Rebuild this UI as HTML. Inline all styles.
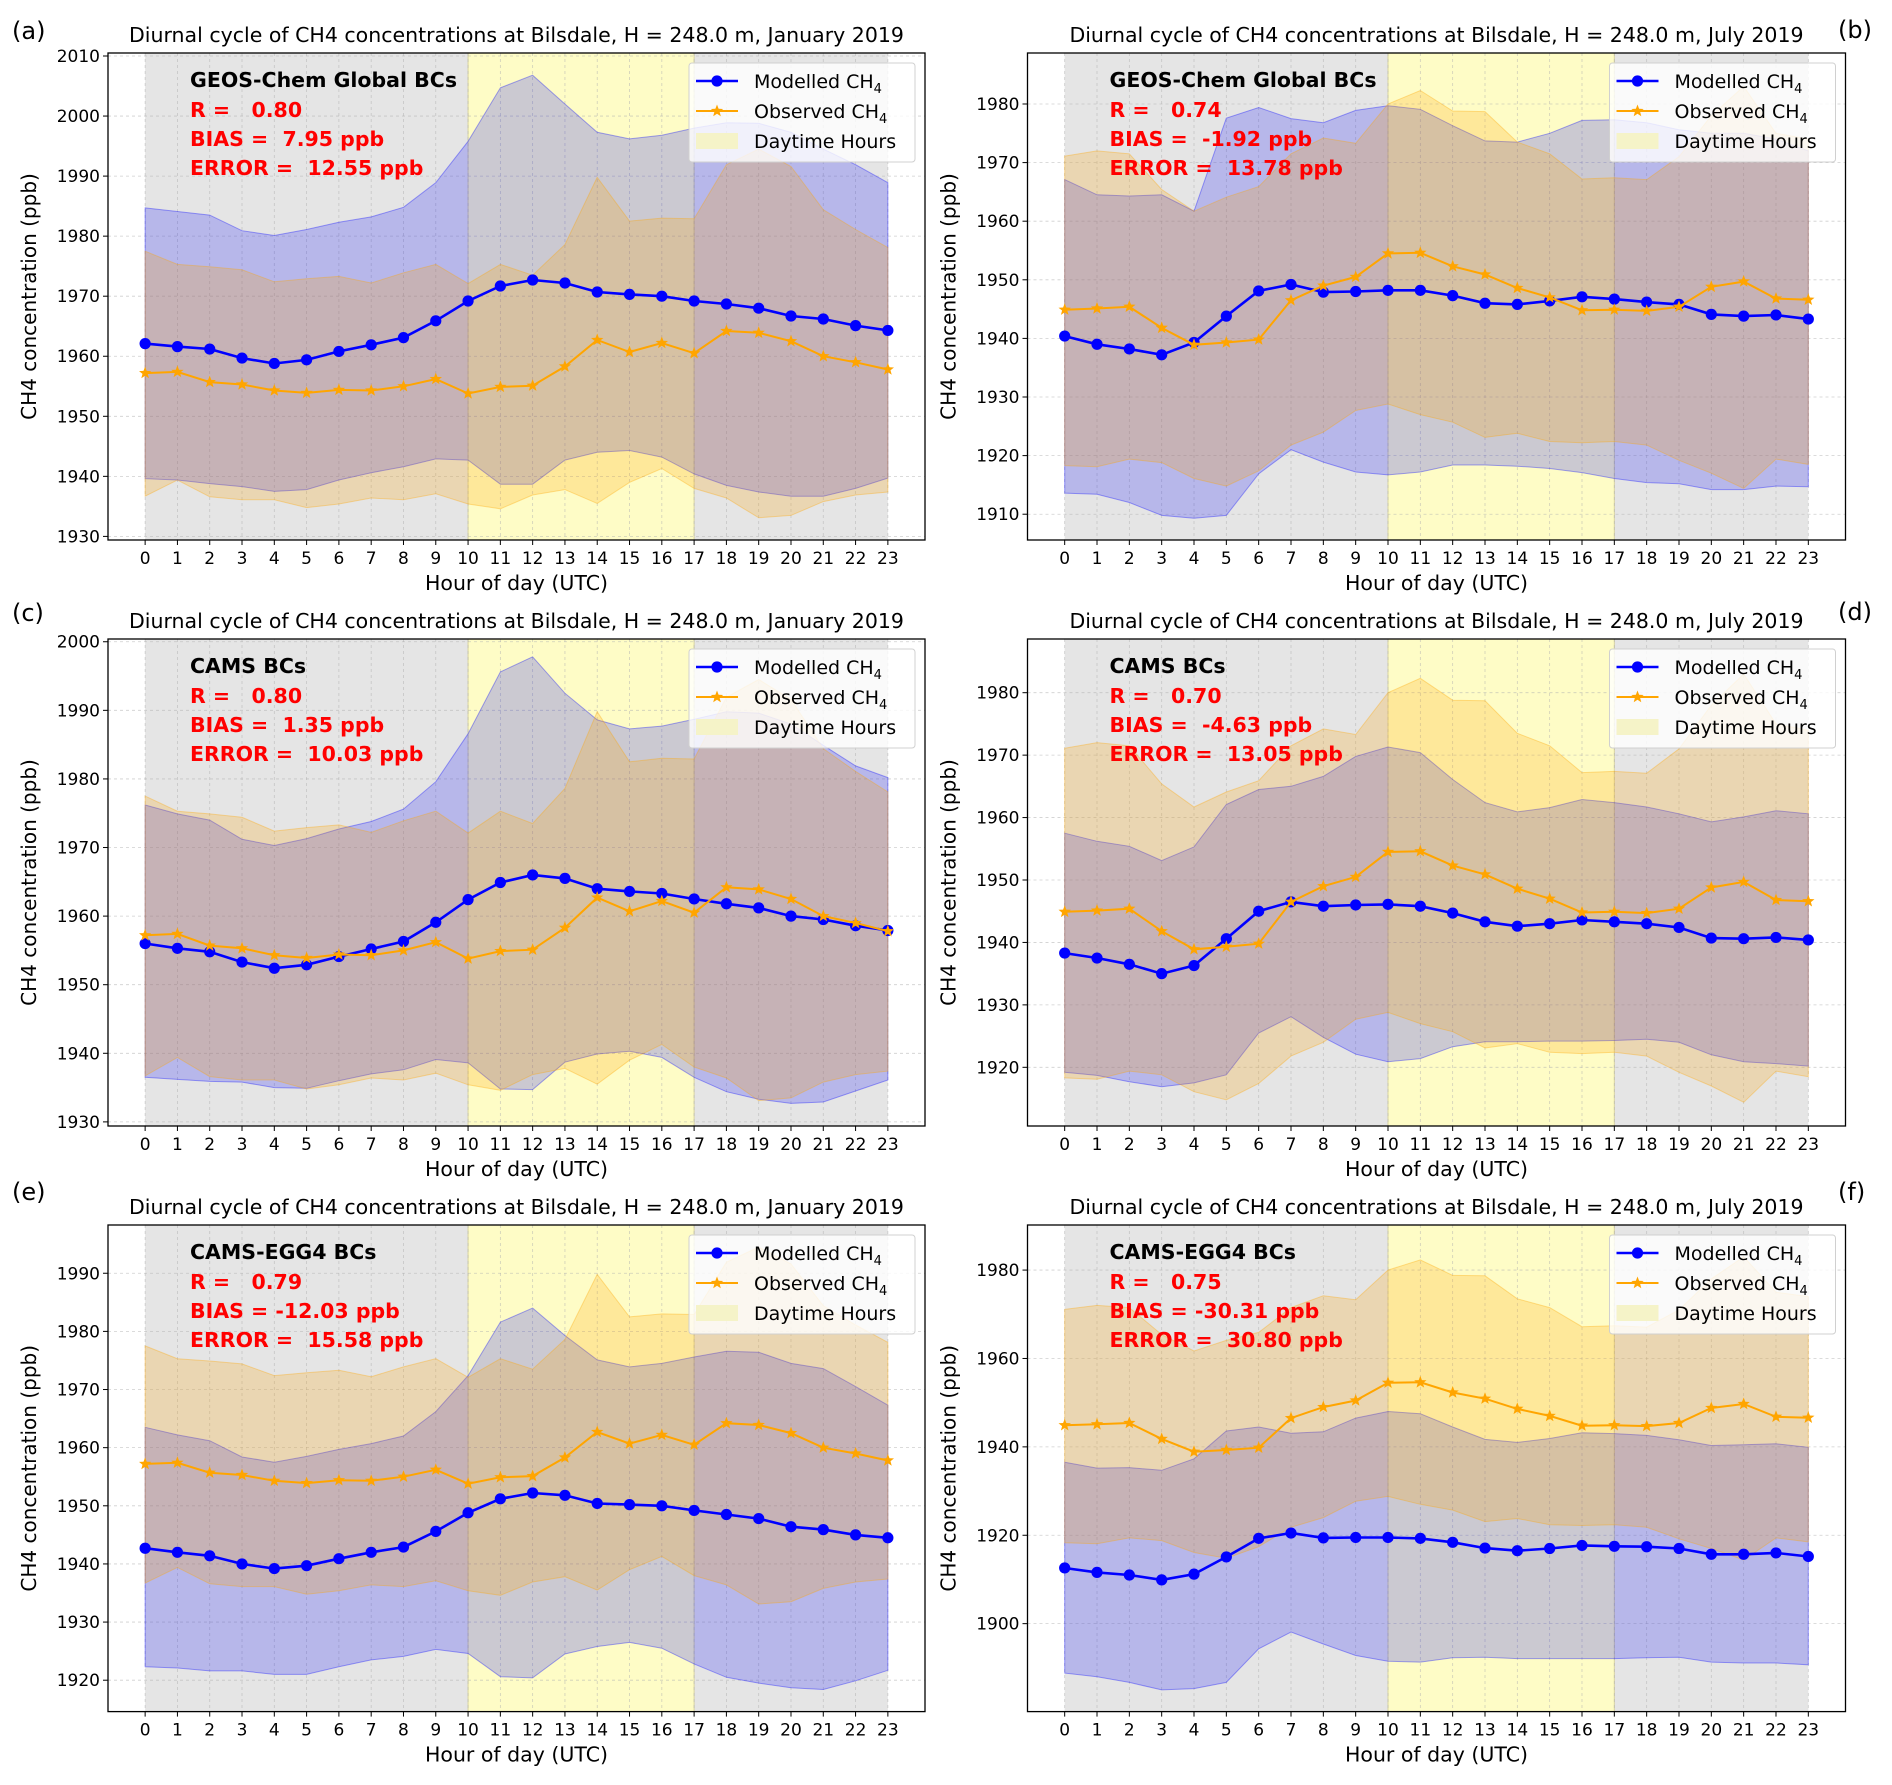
<!DOCTYPE html>
<html><head><meta charset="utf-8">
<style>
html,body{margin:0;padding:0;background:#fff;}
svg{display:block;font-family:"DejaVu Sans","Liberation Sans",sans-serif;}
</style></head>
<body>
<svg id="fig" width="1892" height="1785" viewBox="0 0 1892 1785" xmlns="http://www.w3.org/2000/svg"></svg>
<script>
const hours=[0,1,2,3,4,5,6,7,8,9,10,11,12,13,14,15,16,17,18,19,20,21,22,23];
// Observed (same in each month)
const obsJan=[1957.2,1957.4,1955.7,1955.3,1954.3,1953.9,1954.4,1954.3,1955.0,1956.2,1953.8,1954.9,1955.1,1958.3,1962.7,1960.7,1962.2,1960.5,1964.2,1963.9,1962.5,1960.0,1959.0,1957.8];
const obsJanUp=[1977.5,1975.3,1974.9,1974.4,1972.4,1972.9,1973.3,1972.2,1973.9,1975.3,1972.1,1975.3,1973.5,1978.6,1989.8,1982.5,1983.0,1982.9,1991.9,1994.5,1991.6,1984.4,1981.1,1978.1];
const obsJanLo=[1936.7,1939.4,1936.6,1936.1,1936.1,1934.8,1935.4,1936.4,1936.1,1937.1,1935.4,1934.6,1936.9,1937.8,1935.5,1939.0,1941.3,1938.0,1936.4,1933.1,1933.5,1935.8,1936.9,1937.4];
const obsJul=[1944.9,1945.1,1945.4,1941.8,1938.9,1939.3,1939.8,1946.5,1949.0,1950.5,1954.5,1954.6,1952.3,1950.9,1948.6,1947.0,1944.8,1944.9,1944.7,1945.4,1948.8,1949.7,1946.8,1946.6];
const obsJulUp=[1971.1,1972.0,1971.5,1965.4,1961.7,1964.1,1965.9,1971.5,1974.2,1973.3,1980.0,1982.3,1978.8,1978.7,1973.5,1971.5,1967.2,1967.4,1967.1,1971.0,1978.0,1983.0,1975.0,1974.0];
const obsJulLo=[1918.3,1918.1,1919.4,1918.8,1916.1,1914.8,1917.4,1921.8,1924.0,1927.7,1928.8,1927.0,1925.7,1923.1,1923.8,1922.4,1922.2,1922.4,1921.8,1919.2,1917.0,1914.4,1919.4,1918.5];
// Modelled
const modA=[1962.1,1961.6,1961.2,1959.7,1958.8,1959.4,1960.8,1961.9,1963.1,1965.9,1969.2,1971.7,1972.7,1972.2,1970.7,1970.3,1970.0,1969.2,1968.7,1968.0,1966.7,1966.2,1965.1,1964.3];
const modAUp=[1984.7,1984.1,1983.5,1980.9,1980.1,1981.1,1982.3,1983.2,1984.8,1988.9,1995.8,2004.7,2006.8,2002.0,1997.3,1996.2,1996.8,1998.0,1998.9,1998.8,1997.3,1994.5,1991.9,1988.9];
const modALo=[1939.6,1939.4,1938.8,1938.3,1937.5,1937.8,1939.4,1940.6,1941.6,1942.9,1942.7,1938.7,1938.7,1942.7,1944.0,1944.3,1943.2,1940.4,1938.5,1937.4,1936.7,1936.7,1938.0,1939.7];
const modB=[1940.4,1939.0,1938.2,1937.2,1939.3,1943.8,1948.1,1949.2,1947.9,1948.0,1948.2,1948.2,1947.3,1946.0,1945.8,1946.4,1947.1,1946.7,1946.2,1945.8,1944.1,1943.8,1944.0,1943.3];
const modBUp=[1967.1,1964.5,1964.3,1964.5,1961.7,1977.6,1979.4,1977.5,1976.8,1978.9,1979.7,1979.1,1976.3,1973.7,1973.5,1975.0,1977.2,1977.3,1976.8,1975.6,1975.0,1975.0,1974.0,1972.0];
const modBLo=[1913.6,1913.4,1912.0,1909.8,1909.3,1909.8,1916.9,1921.0,1918.9,1917.2,1916.7,1917.2,1918.4,1918.4,1918.2,1917.8,1917.1,1916.1,1915.4,1915.2,1914.2,1914.2,1914.8,1914.7];
const modC=[1956.0,1955.3,1954.8,1953.3,1952.4,1952.9,1954.1,1955.2,1956.3,1959.1,1962.4,1964.9,1966.0,1965.5,1964.0,1963.6,1963.3,1962.5,1961.8,1961.2,1960.0,1959.5,1958.6,1957.9];
const modCUp=[1976.2,1974.9,1974.0,1971.2,1970.3,1971.3,1972.7,1973.8,1975.6,1979.6,1986.6,1995.6,1997.8,1992.5,1988.6,1987.3,1987.7,1988.7,1989.8,1989.6,1988.0,1984.9,1981.9,1980.2];
const modCLo=[1936.5,1936.2,1935.9,1935.8,1935.0,1934.9,1936.0,1937.0,1937.6,1939.1,1938.6,1934.8,1934.7,1938.7,1939.9,1940.3,1939.4,1936.5,1934.4,1933.3,1932.7,1932.9,1934.5,1936.1];
const modD=[1938.3,1937.5,1936.5,1935.0,1936.3,1940.6,1945.0,1946.5,1945.8,1946.0,1946.1,1945.8,1944.7,1943.3,1942.6,1943.0,1943.6,1943.3,1943.0,1942.4,1940.7,1940.6,1940.8,1940.4];
const modDUp=[1957.5,1956.2,1955.4,1953.1,1955.3,1962.1,1964.5,1965.0,1966.6,1969.8,1971.3,1970.4,1966.1,1962.4,1960.9,1961.6,1962.9,1962.4,1961.7,1960.6,1959.3,1960.1,1961.1,1960.6];
const modDLo=[1919.2,1918.7,1917.7,1916.9,1917.5,1918.8,1925.5,1928.1,1924.8,1922.1,1920.9,1921.4,1923.3,1924.1,1924.1,1924.2,1924.2,1924.3,1924.5,1924.0,1922.0,1920.9,1920.6,1920.2];
const modE=[1942.7,1942.0,1941.4,1940.0,1939.2,1939.7,1940.9,1942.0,1942.9,1945.6,1948.8,1951.2,1952.2,1951.8,1950.4,1950.2,1950.0,1949.2,1948.5,1947.8,1946.4,1945.9,1945.0,1944.5];
const modEUp=[1963.5,1962.2,1961.2,1958.4,1957.5,1958.5,1959.7,1960.7,1962.0,1966.2,1972.4,1981.6,1984.0,1979.3,1975.1,1973.9,1974.5,1975.6,1976.6,1976.4,1974.5,1973.6,1970.5,1967.3];
const modELo=[1922.3,1922.1,1921.6,1921.6,1921.0,1921.0,1922.3,1923.5,1924.1,1925.3,1924.6,1920.6,1920.4,1924.5,1925.8,1926.5,1925.5,1922.8,1920.5,1919.5,1918.7,1918.4,1919.9,1921.7];
const modF=[1912.6,1911.6,1911.0,1909.9,1911.2,1915.1,1919.3,1920.5,1919.4,1919.5,1919.5,1919.3,1918.4,1917.1,1916.5,1917.0,1917.7,1917.5,1917.4,1917.0,1915.7,1915.7,1916.0,1915.2];
const modFUp=[1936.5,1935.2,1935.3,1934.7,1937.3,1943.6,1944.5,1943.1,1943.4,1946.5,1948.0,1947.5,1944.5,1941.7,1941.0,1941.9,1943.2,1943.0,1942.6,1941.6,1940.3,1940.5,1940.7,1939.9];
const modFLo=[1888.8,1888.0,1886.7,1885.0,1885.3,1886.7,1894.3,1898.1,1895.4,1892.8,1891.5,1891.3,1892.3,1892.4,1892.1,1892.1,1892.1,1892.1,1892.3,1892.4,1891.3,1891.1,1891.1,1890.7];
const ticksA=[1930,1940,1950,1960,1970,1980,1990,2000,2010];
const ticksB=[1910,1920,1930,1940,1950,1960,1970,1980];
const ticksC=[1930,1940,1950,1960,1970,1980,1990,2000];
const ticksD=[1920,1930,1940,1950,1960,1970,1980];
const ticksE=[1920,1930,1940,1950,1960,1970,1980,1990];
const ticksF=[1900,1920,1940,1960,1980];
const labels=["(a)","(b)","(c)","(d)","(e)","(f)"];
const bcNames=["GEOS-Chem Global BCs","GEOS-Chem Global BCs","CAMS BCs","CAMS BCs","CAMS-EGG4 BCs","CAMS-EGG4 BCs"];
const rVals=["0.80","0.74","0.80","0.70","0.79","0.75"];
const biasVals=["  7.95","  -1.92","  1.35","  -4.63"," -12.03"," -30.31"];
const errVals=["12.55","13.78","10.03","13.05","15.58","30.80"];

const NS="http://www.w3.org/2000/svg";
const svg=document.getElementById('fig');
function mk(tag,attrs,parent){const e=document.createElementNS(NS,tag);for(const k in attrs)e.setAttribute(k,attrs[k]);(parent||svg).appendChild(e);return e;}

const panels=[
 {L:108,R:925,T:53,B:540,y0:1929.4,y1:2010.5,ticks:ticksA,mod:modA,up:modAUp,lo:modALo,obs:obsJan,oup:obsJanUp,olo:obsJanLo,month:"January",lx:12,lb:39},
 {L:1027.5,R:1845.5,T:53,B:540,y0:1905.6,y1:1988.7,ticks:ticksB,mod:modB,up:modBUp,lo:modBLo,obs:obsJul,oup:obsJulUp,olo:obsJulLo,month:"July",lx:1838,lb:38},
 {L:108,R:925,T:639,B:1126,y0:1929.4,y1:2000.4,ticks:ticksC,mod:modC,up:modCUp,lo:modCLo,obs:obsJan,oup:obsJanUp,olo:obsJanLo,month:"January",lx:12,lb:621},
 {L:1027.5,R:1845.5,T:639,B:1126,y0:1910.6,y1:1988.6,ticks:ticksD,mod:modD,up:modDUp,lo:modDLo,obs:obsJul,oup:obsJulUp,olo:obsJulLo,month:"July",lx:1838,lb:620},
 {L:108,R:925,T:1225,B:1711.6,y0:1914.6,y1:1998.3,ticks:ticksE,mod:modE,up:modEUp,lo:modELo,obs:obsJan,oup:obsJanUp,olo:obsJanLo,month:"January",lx:12,lb:1200},
 {L:1027.5,R:1845.5,T:1225,B:1711.6,y0:1880.1,y1:1990.2,ticks:ticksF,mod:modF,up:modFUp,lo:modFLo,obs:obsJul,oup:obsJulUp,olo:obsJulLo,month:"July",lx:1838,lb:1200}
];

function star(cx,cy,r){let p=[];for(let i=0;i<10;i++){const a=-Math.PI/2+i*Math.PI/5;const rr=i%2?r*0.42:r;p.push((cx+rr*Math.cos(a)).toFixed(1)+","+(cy+rr*Math.sin(a)).toFixed(1));}return p.join(" ");}

panels.forEach((P,pi)=>{
  const X=h=>P.L+(h+1.15)/25.3*(P.R-P.L);
  const Y=v=>P.B-(v-P.y0)/(P.y1-P.y0)*(P.B-P.T);
  const g=mk('g',{});
  
  
  const clipId='clip'+pi;
  const cp=mk('clipPath',{id:clipId},g);mk('rect',{x:P.L,y:P.T,width:P.R-P.L,height:P.B-P.T},cp);
  const plot=mk('g',{'clip-path':'url(#'+clipId+')'},g);
  const s1=mk('rect',{x:X(0),y:P.T,width:X(10)-X(0),height:P.B-P.T,fill:'#e5e5e5'},plot);
  
  const s2=mk('rect',{x:X(10),y:P.T,width:X(17)-X(10),height:P.B-P.T,fill:'#fefcc6'},plot);
  
  const s3=mk('rect',{x:X(17),y:P.T,width:X(23)-X(17),height:P.B-P.T,fill:'#e5e5e5'},plot);
  
  mk('line',{x1:X(10),x2:X(10),y1:P.T,y2:P.B,stroke:'#d8d3a0','stroke-width':1},plot);
  mk('line',{x1:X(17),x2:X(17),y1:P.T,y2:P.B,stroke:'#d8d3a0','stroke-width':1},plot);
  hours.forEach(h=>mk('line',{x1:X(h),x2:X(h),y1:P.T,y2:P.B,stroke:'#b0b0b0','stroke-width':0.8,'stroke-dasharray':'3,3',opacity:0.6},plot));
  P.ticks.forEach(t=>mk('line',{x1:P.L,x2:P.R,y1:Y(t),y2:Y(t),stroke:'#b0b0b0','stroke-width':0.8,'stroke-dasharray':'3,3',opacity:0.6},plot));
  function band(up,lo,fill,stroke,op){let d='M'+hours.map(h=>X(h).toFixed(1)+','+Y(up[h]).toFixed(1)).join('L');for(let i=hours.length-1;i>=0;i--)d+='L'+X(hours[i]).toFixed(1)+','+Y(lo[i]).toFixed(1);d+='Z';return mk('path',{d:d,fill:fill,'fill-opacity':op,stroke:stroke,'stroke-opacity':0.35,'stroke-width':1},plot);}
  const bm=band(P.up,P.lo,'#0000ff','#0000ff',0.2);
  
  const bo=band(P.oup,P.olo,'#ffa500','#ffa500',0.22);
  
  const lm=mk('polyline',{points:hours.map(h=>X(h).toFixed(1)+','+Y(P.mod[h]).toFixed(1)).join(' '),fill:'none',stroke:'#0000ff','stroke-width':2.6},plot);
  
  hours.forEach(h=>{const c=mk('circle',{cx:X(h),cy:Y(P.mod[h]),r:5.6,fill:'#0000ff'},plot);
    });
  const lo=mk('polyline',{points:hours.map(h=>X(h).toFixed(1)+','+Y(P.obs[h]).toFixed(1)).join(' '),fill:'none',stroke:'#ffa500','stroke-width':2},plot);
  
  hours.forEach(h=>{const s=mk('polygon',{points:star(X(h),Y(P.obs[h]),6.5),fill:'#ffa500'},plot);
    });
  const fr=mk('rect',{x:P.L,y:P.T,width:P.R-P.L,height:P.B-P.T,fill:'none',stroke:'#000','stroke-width':1.3},g);
  
  hours.forEach(h=>{mk('line',{x1:X(h),x2:X(h),y1:P.B,y2:P.B+5,stroke:'#000','stroke-width':1},g);
    const t=mk('text',{x:X(h),y:P.B+24,'font-size':17,'text-anchor':'middle',fill:'#000'},g);t.textContent=h;
    });
  P.ticks.forEach(v=>{mk('line',{x1:P.L-5,x2:P.L,y1:Y(v),y2:Y(v),stroke:'#000','stroke-width':1},g);
    const t=mk('text',{x:P.L-8,y:Y(v)+6,'font-size':17,'text-anchor':'end',fill:'#000'},g);t.textContent=v;
    });
  const xl=mk('text',{x:(P.L+P.R)/2,y:P.B+50,'font-size':20.5,'text-anchor':'middle'},g);xl.textContent='Hour of day (UTC)';
  
  const yc=(P.T+P.B)/2, yx=P.L-72;
  const yl=mk('text',{x:yx,y:yc,'font-size':20,'text-anchor':'middle',transform:'rotate(-90 '+yx+' '+yc+')'},g);yl.textContent='CH4 concentration (ppb)';
  
  const ti=mk('text',{x:(P.L+P.R)/2,y:P.T-11,'font-size':20.5,'text-anchor':'middle'},g);
  ti.textContent='Diurnal cycle of CH4 concentrations at Bilsdale, H = 248.0 m, '+P.month+' 2019';
  
  const pl=mk('text',{x:P.lx,y:P.lb,'font-size':24},g);pl.textContent=labels[pi];
  
  const ax=P.L+82;
  const a1=mk('text',{x:ax,y:P.T+34,'font-size':20.5,'font-weight':'bold',fill:'#000'},g);a1.textContent=bcNames[pi];
  
  const stats=[['R =   '+rVals[pi],'r-value'],['BIAS ='+biasVals[pi]+' ppb','bias-value'],['ERROR =  '+errVals[pi]+' ppb','error-value']];
  stats.forEach((s,i)=>{const t=mk('text',{x:ax,y:P.T+64+i*29,'font-size':20.5,'font-weight':'bold',fill:'#ff0000','xml:space':'preserve'},g);
    t.style.whiteSpace='pre';t.textContent=s[0];
    });
  const lg=mk('g',{},g);
  
  const lgL=P.R-236, lgT=P.T+10;
  mk('rect',{x:lgL,y:lgT,width:226,height:99,rx:3,fill:'#ffffff','fill-opacity':0.8,stroke:'#d0d0d0'},lg);
  const rows=[lgT+18,lgT+48,lgT+78];
  mk('line',{x1:lgL+7,x2:lgL+49,y1:rows[0],y2:rows[0],stroke:'#0000ff','stroke-width':2.6},lg);
  mk('circle',{cx:lgL+28,cy:rows[0],r:5.6,fill:'#0000ff'},lg);
  mk('line',{x1:lgL+7,x2:lgL+49,y1:rows[1],y2:rows[1],stroke:'#ffa500','stroke-width':2},lg);
  mk('polygon',{points:star(lgL+28,rows[1],6.5),fill:'#ffa500'},lg);
  mk('rect',{x:lgL+7,y:rows[2]-8,width:42,height:16,fill:'#f5f3c8'},lg);
  const e1=mk('text',{x:lgL+65,y:rows[0]+7,'font-size':19},lg);e1.innerHTML='Modelled CH<tspan font-size="13" dy="5">4</tspan>';
  
  const e2=mk('text',{x:lgL+65,y:rows[1]+7,'font-size':19},lg);e2.innerHTML='Observed CH<tspan font-size="13" dy="5">4</tspan>';
  
  const e3=mk('text',{x:lgL+65,y:rows[2]+7,'font-size':19},lg);e3.textContent='Daytime Hours';
  
});
</script>
</body></html>
